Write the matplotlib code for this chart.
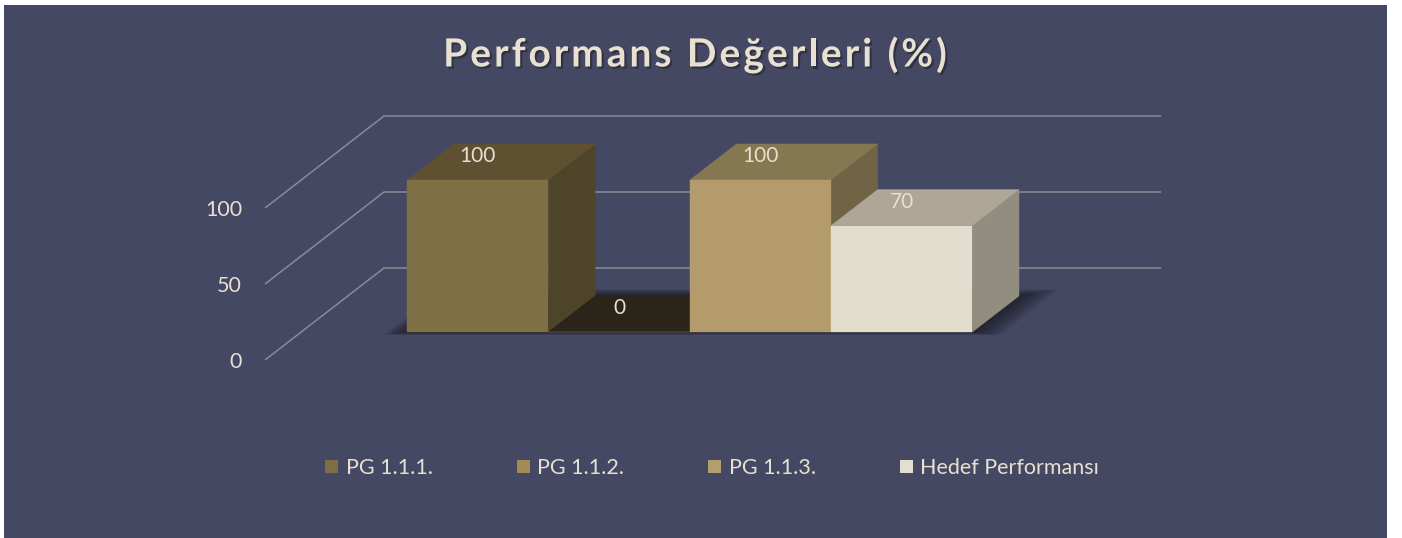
import matplotlib.pyplot as plt
import matplotlib.patheffects as pe
from matplotlib.patches import Polygon, Patch, Rectangle

# data
title = 'Performans Değerleri (%)'
series = ['PG 1.1.1.', 'PG 1.1.2.', 'PG 1.1.3.', 'Hedef Performansı']
values = [100, 0, 100, 70]
yticks = [0, 50, 100]

front_colors = ['#7f6f44', '#a38b56', '#b39b6c', '#e2ddcc']
top_colors = ['#5f5032', '#2b2418', '#857850', '#aea797']
side_colors = ['#4e442a', '#3a3120', '#706346', '#918d7f']
legend_colors = ['#7f6d45', '#a38b56', '#b39e6d', '#e3dfd0']

bg = '#454862'
txt = '#e6e0d3'
grid = '#8b8b95'

plt.rcParams['font.family'] = ['Lato', 'DejaVu Sans']

W, H = 1402, 538
fig = plt.figure(figsize=(W / 100, H / 100), dpi=100, facecolor='white')
fig.patches.append(Rectangle((4 / W, 0), 1383 / W, 533 / H, transform=fig.transFigure,
                             facecolor=bg, edgecolor='none', zorder=-10))
ax = fig.add_axes([0, 0, 1, 1])
ax.set_facecolor('none')
ax.axis('off')

# projection: one bar width = 141.3 px, one value unit = 1.52 px
px_x, px_y = 141.3, 1.52
ox, oy = 265, 360          # floor front-left corner in pixels
ax.set_xlim(-ox / px_x, (W - ox) / px_x)
ax.set_ylim(-(H - oy) / px_y, oy / px_y)

Dx, Dy = 119 / px_x, 92 / px_y   # full depth vector
zf, zb = 0.304, 0.696            # bar depth span
gap = 0.75
floor_w = len(values) + 2 * gap

# gridlines on side wall and back wall
for v in yticks:
    ax.plot([0, Dx, Dx + floor_w], [v, v + Dy, v + Dy], color=grid, lw=1.1,
            solid_capstyle='butt', zorder=1)
    ax.text(-23 / px_x, v, str(v), ha='right', va='center_baseline', fontsize=15.5,
            color=txt)

# soft shadow under the bar group
for k in range(8):
    e = 0.02 + k * 0.018
    x0, x1 = gap - e, gap + len(values) + e * 1.5
    a, b = zf - e * 0.15, zb + e * 0.5
    pts = [(x0 + a * Dx, a * Dy - e * 4), (x1 + a * Dx, a * Dy - e * 4),
           (x1 + b * Dx, b * Dy), (x0 + b * Dx, b * Dy)]
    ax.add_patch(Polygon(pts, closed=True, facecolor='#101018', alpha=0.1,
                         edgecolor='none', zorder=2))

for i, v in enumerate(values):
    x0 = gap + i
    fx, fy = x0 + zf * Dx, zf * Dy
    bx, by = x0 + zb * Dx, zb * Dy
    z = 3 + i * 3
    ax.bar(fx, v, width=1, bottom=fy, align='edge', color=front_colors[i],
           edgecolor=front_colors[i], lw=0.3, zorder=z + 2)
    side = [(fx + 1, fy), (bx + 1, by), (bx + 1, by + v), (fx + 1, fy + v)]
    ax.add_patch(Polygon(side, closed=True, facecolor=side_colors[i],
                         edgecolor=side_colors[i], lw=0.3, zorder=z))
    top = [(fx, fy + v), (fx + 1, fy + v), (bx + 1, by + v), (bx, by + v)]
    ax.add_patch(Polygon(top, closed=True, facecolor=top_colors[i],
                         edgecolor=top_colors[i], lw=0.3, zorder=z + 1))
    ax.annotate(str(v), (fx + 0.5, fy + v), xytext=(0, 17), textcoords='offset points',
                ha='center', va='center', fontsize=15, color=txt, zorder=30)

# title with letter spacing, placed glyph by glyph
tkw = dict(fontsize=28, fontweight='bold', color='#e8e1d2', va='center',
           path_effects=[pe.SimplePatchShadow(offset=(1.5, -1.5), shadow_rgbFace='#1a1a22',
                                              alpha=0.5), pe.Normal()])
r = fig.canvas.get_renderer()


def text_w(s):
    t = fig.text(0, 0, s, **tkw)
    w = t.get_window_extent(r).width
    t.remove()
    return w


bar_w = text_w('|')
spacing = 3.0
total = text_w(title) + spacing * (len(title) - 1)
start = 695 - total / 2
for k, ch in enumerate(title):
    xk = start + text_w(title[:k] + '|') - bar_w + k * spacing if k else start
    fig.text(xk / W, 1 - 55 / H, ch, ha='left', **tkw)

handles = [Patch(facecolor=c, edgecolor='none') for c in legend_colors]
lfs = 15.5
fig.legend(handles, series, loc='center', bbox_to_anchor=(0.508, 1 - 468 / H), ncol=4,
           frameon=False, fontsize=lfs, labelcolor=txt, handlelength=0.6,
           handleheight=0.6, handletextpad=0.35, columnspacing=60.5 / lfs)

fig.savefig('out.png', dpi=100, facecolor='white')
